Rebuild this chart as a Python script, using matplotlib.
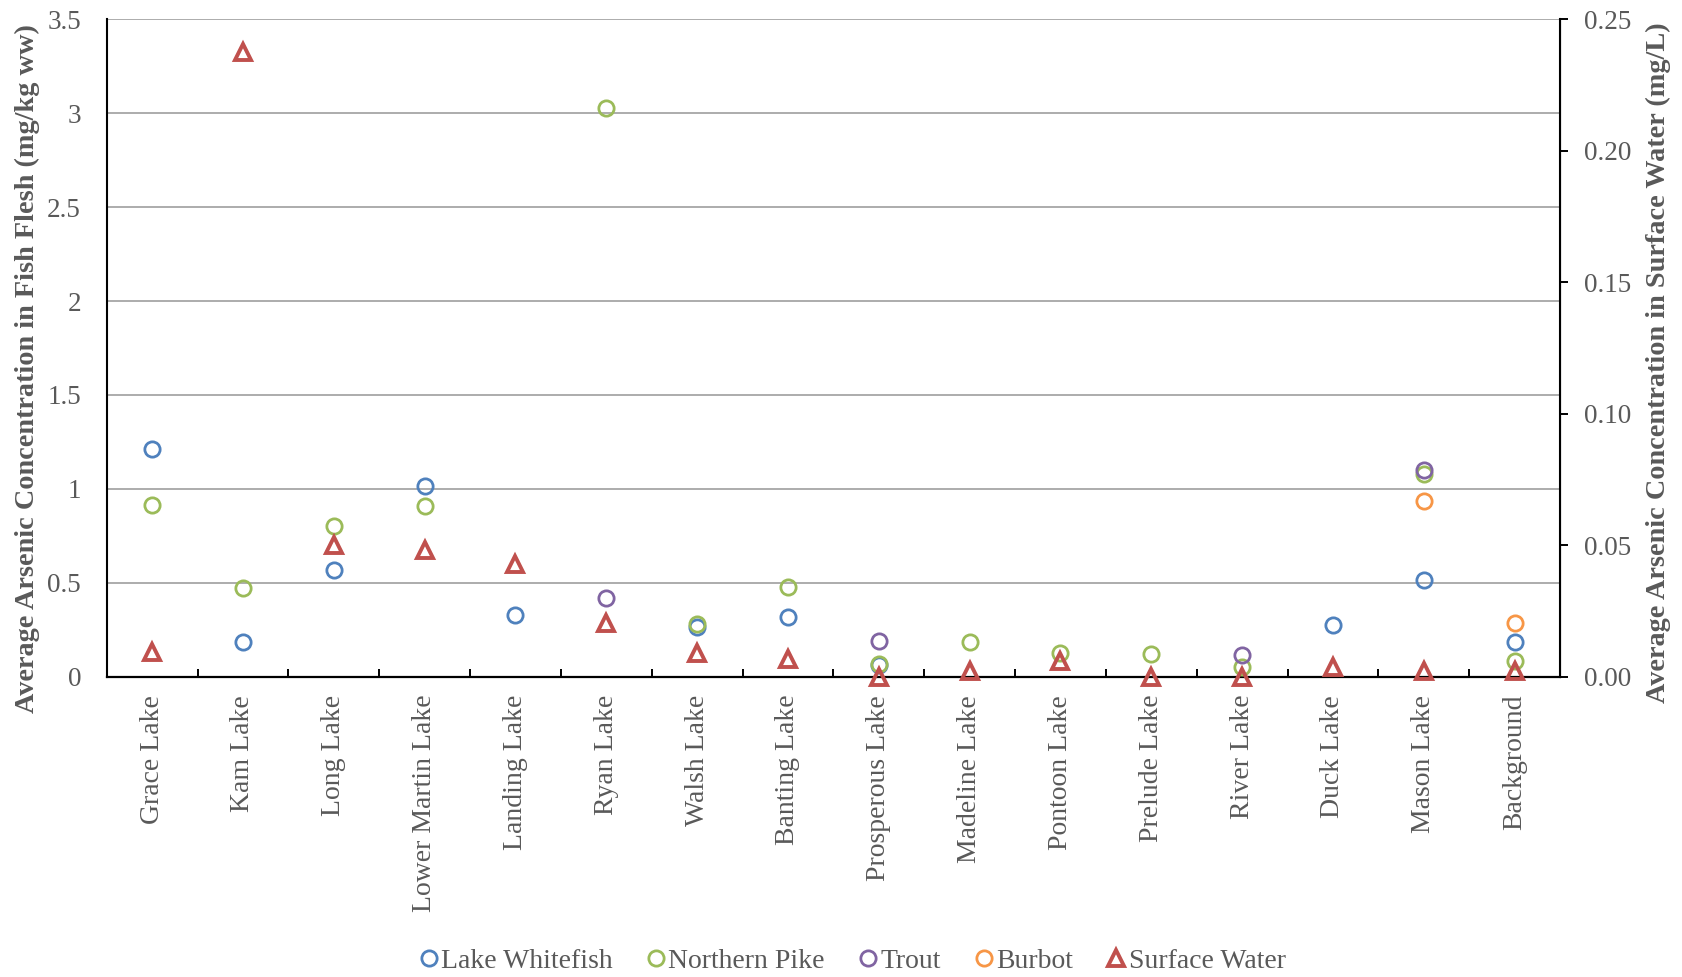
import numpy as np
import matplotlib
matplotlib.use("Agg")
import matplotlib.pyplot as plt
from matplotlib.lines import Line2D

nan = np.nan
lakes = ["Grace Lake", "Kam Lake", "Long Lake", "Lower Martin Lake", "Landing Lake",
         "Ryan Lake", "Walsh Lake", "Banting Lake", "Prosperous Lake", "Madeline Lake",
         "Pontoon Lake", "Prelude Lake", "River Lake", "Duck Lake", "Mason Lake", "Background"]

lake_whitefish = [1.21, 0.185, 0.567, 1.016, 0.33, nan, 0.263, 0.316, 0.064, nan,
                  nan, nan, nan, 0.275, 0.515, 0.186]
northern_pike = [0.914, 0.47, 0.804, 0.909, nan, 3.026, 0.278, 0.477, 0.069, 0.185,
                 0.128, 0.121, 0.05, nan, 1.08, 0.084]
trout = [nan, nan, nan, nan, nan, 0.42, nan, nan, 0.19, nan,
         nan, nan, 0.114, nan, 1.103, nan]
burbot = [nan, nan, nan, nan, nan, nan, nan, nan, nan, nan,
          nan, nan, nan, nan, 0.933, 0.288]
surface_water = [0.0095, 0.2377, 0.050, 0.0483, 0.0429, 0.0204, 0.0091, 0.0066, 0.0, 0.002,
                 0.006, 0.0, 0.0, 0.0036, 0.0022, 0.0021]

left_ticks = [0, 0.5, 1, 1.5, 2, 2.5, 3, 3.5]
left_ticklabels = ["0", "0.5", "1", "1.5", "2", "2.5", "3", "3.5"]
right_ticks = [0.00, 0.05, 0.10, 0.15, 0.20, 0.25]

plt.rcParams['font.family'] = ['Liberation Serif', 'DejaVu Serif']

W, H = 1683, 977
L, R, T, B = 106.7, 1560.0, 19.3, 676.7
fig = plt.figure(figsize=(W / 100, H / 100), dpi=100)
ax = fig.add_axes([L / W, 1 - B / H, (R - L) / W, (B - T) / H])
ax2 = ax.twinx()

grey = "#595959"
colors = {"Lake Whitefish": "#4F81BD", "Northern Pike": "#9BBB59", "Trout": "#8064A2",
          "Burbot": "#F79646", "Surface Water": "#C0504D"}

x = np.arange(len(lakes))
ms = 11
mew = 2.0
for name, vals in [("Lake Whitefish", lake_whitefish), ("Northern Pike", northern_pike),
                   ("Trout", trout), ("Burbot", burbot)]:
    ax.plot(x, vals, linestyle="none", marker="o", markersize=ms, markerfacecolor="none",
            markeredgecolor=colors[name], markeredgewidth=mew, clip_on=False, zorder=3)

ax2.plot(x, surface_water, linestyle="none", marker="^", markersize=11.5, markerfacecolor="none",
         markeredgecolor=colors["Surface Water"], markeredgewidth=2.8, clip_on=False, zorder=3)

ax.set_xlim(-0.5, len(lakes) - 0.5)
ax.set_ylim(0, 3.5)
ax2.set_ylim(0, 0.25)

ax.set_yticks(left_ticks)
ax.set_yticklabels(left_ticklabels)
ax2.set_yticks(right_ticks)
ax2.set_yticklabels([f"{v:.2f}" for v in right_ticks])

ax.yaxis.grid(True, color="#a6a6a6", linewidth=1.3)
ax.set_axisbelow(True)

fs = 20
ax.set_xticks(x)
ax.set_xticklabels(lakes, rotation=90, fontsize=fs, color=grey, va="top", ha="center")
ax.set_xticks(np.arange(len(lakes) + 1) - 0.5, minor=True)
ax.tick_params(axis="x", which="major", length=0, pad=13)
ax.tick_params(axis="x", which="minor", length=6, direction="in", width=1.4, color="black")
ax.tick_params(axis="y", length=0, pad=18.5, labelsize=19.5, labelcolor=grey)
ax2.tick_params(axis="y", length=6, width=1.4, direction="out", pad=11, labelsize=19.5, labelcolor=grey)

for a in (ax, ax2):
    a.spines["top"].set_visible(False)
ax.spines["left"].set_linewidth(1.5)
ax.spines["bottom"].set_linewidth(1.6)
ax2.spines["right"].set_linewidth(1.5)
ax2.spines["left"].set_visible(False)
ax2.spines["bottom"].set_visible(False)

ax.set_ylabel("Average Arsenic Concentration in Fish Flesh (mg/kg ww)", fontsize=20.3,
              fontweight="bold", color=grey)
ax.yaxis.set_label_coords((27 - L) / (R - L), (B - 369) / (B - T))
ax.yaxis.label.set_va("center")
ax2.set_ylabel("Average Arsenic Concentration in Surface Water (mg/L)", fontsize=20.3,
               fontweight="bold", color=grey, rotation=90)
ax2.yaxis.set_label_coords((1658 - L) / (R - L), (B - 363) / (B - T))
ax2.yaxis.label.set_va("center")

handles = [Line2D([], [], linestyle="none", marker="o", markersize=11, markerfacecolor="none",
                  markeredgecolor=colors[n], markeredgewidth=2.0, label=n)
           for n in ["Lake Whitefish", "Northern Pike", "Trout", "Burbot"]]
handles.append(Line2D([], [], linestyle="none", marker="^", markersize=11.5, markerfacecolor="none",
                      markeredgecolor=colors["Surface Water"], markeredgewidth=2.8,
                      label="Surface Water"))
leg = fig.legend(handles=handles, loc="center", bbox_to_anchor=(851 / W, 1 - 961 / H), ncol=5,
                 frameon=False, fontsize=20, handletextpad=0.0, columnspacing=1.1,
                 handlelength=0.9, borderaxespad=0)
for t in leg.get_texts():
    t.set_color(grey)

fig.savefig("out.png", dpi=100)
